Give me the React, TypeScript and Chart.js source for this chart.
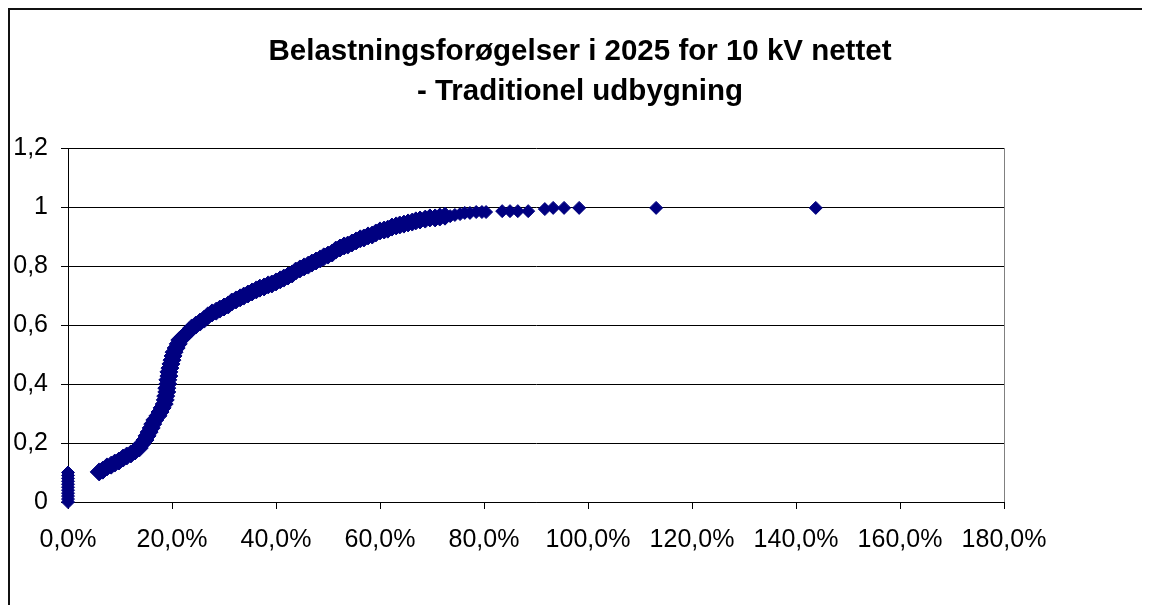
import React, { useEffect, useRef } from "react";
import { Chart, registerables } from "chart.js";

Chart.register(...registerables);

const TITLE_LINES = ["Belastningsforøgelser i 2025 for 10 kV nettet", "- Traditionel udbygning"];

const X_TICKS = [0, 20, 40, 60, 80, 100, 120, 140, 160, 180];
const Y_TICKS = [0, 0.2, 0.4, 0.6, 0.8, 1, 1.2];

// Items with no load increase (0 %)
const zeroX = [0, 0, 0, 0, 0, 0, 0, 0, 0, 0, 0];
const zeroY = [0, 0.01, 0.02, 0.03, 0.04, 0.05, 0.06, 0.07, 0.08, 0.09, 0.1];

// Load increase in percent (sorted) – dense part of the curve
const curveX = [
  6.0, 6.7, 7.5, 8.3, 9.0, 9.8, 10.6, 11.3, 12.1, 12.9,
  13.7, 14.2, 14.8, 15.2, 15.6, 16.0, 16.3, 16.7, 17.3, 17.7,
  18.1, 18.5, 18.7, 18.8, 19.0, 19.0, 19.2, 19.2, 19.4, 19.4,
  19.6, 19.8, 20.0, 20.2, 20.4, 20.8, 21.2, 21.5, 22.1, 22.7,
  23.3, 23.8, 24.6, 25.4, 26.2, 26.9, 27.7, 28.5, 29.2, 30.0,
  30.8, 31.5, 32.3, 33.1, 33.8, 34.6, 35.4, 36.2, 36.9, 37.7,
  38.5, 39.2, 40.0, 40.8, 41.5, 42.3, 43.1, 43.8, 44.6, 45.4,
  46.2, 46.9, 47.7, 48.5, 49.2, 50.0, 50.8, 51.5, 52.3, 53.1,
  53.8, 54.6, 55.4, 56.2, 56.9, 57.7, 58.5, 59.2, 60.0, 60.8,
  61.5, 62.3, 63.1, 63.8, 64.6, 65.4, 66.2, 66.9, 67.7, 68.7,
  69.6, 70.6, 71.5, 72.5,
];

// Cumulative share of items – dense part of the curve
const curveY = [
  0.102, 0.108, 0.119, 0.125, 0.132, 0.139, 0.149, 0.156, 0.163, 0.173,
  0.183, 0.197, 0.21, 0.224, 0.237, 0.251, 0.264, 0.278, 0.292, 0.305,
  0.319, 0.332, 0.346, 0.359, 0.373, 0.386, 0.4, 0.414, 0.427, 0.441,
  0.454, 0.468, 0.481, 0.495, 0.508, 0.522, 0.536, 0.549, 0.559, 0.569,
  0.58, 0.59, 0.6, 0.61, 0.62, 0.631, 0.641, 0.647, 0.654, 0.661,
  0.668, 0.678, 0.685, 0.692, 0.698, 0.705, 0.712, 0.719, 0.725, 0.729,
  0.736, 0.739, 0.746, 0.753, 0.759, 0.766, 0.773, 0.783, 0.79, 0.797,
  0.803, 0.81, 0.817, 0.824, 0.831, 0.837, 0.844, 0.854, 0.861, 0.868,
  0.871, 0.878, 0.885, 0.892, 0.895, 0.902, 0.905, 0.912, 0.919, 0.922,
  0.925, 0.932, 0.936, 0.939, 0.942, 0.946, 0.949, 0.953, 0.956, 0.959,
  0.963, 0.963, 0.966, 0.969,
];

// Tail of the distribution
const tailX = [
  73.5, 74.4, 75.4, 76.3, 77.3, 78.5, 79.6, 80.4, 83.5, 85.0,
  86.5, 88.5, 91.7, 93.3, 95.4, 98.3, 113.1, 143.8,
];
const tailY = [
  0.969, 0.973, 0.976, 0.98, 0.98, 0.983, 0.983, 0.983, 0.986, 0.986,
  0.986, 0.986, 0.993, 0.997, 0.997, 0.997, 0.997, 0.997,
];

const FONT = "'Liberation Sans', Arial, sans-serif";
const NAVY = "#000080";

const plotBorder = {
  id: "plotBorder",
  afterDatasetsDraw(chart: any) {
    const { ctx, chartArea } = chart;
    ctx.save();
    ctx.strokeStyle = "#808080";
    ctx.lineWidth = 1;
    ctx.beginPath();
    const x = Math.round(chartArea.right) + 0.5;
    ctx.moveTo(x, chartArea.top);
    ctx.lineTo(x, chartArea.bottom);
    ctx.stroke();
    ctx.restore();
  },
};

const pts = (xs: number[], ys: number[]) => xs.map((x, i) => ({ x, y: ys[i] }));

export default function App() {
  const ref = useRef<HTMLCanvasElement | null>(null);

  useEffect(() => {
    document.body.style.overflow = "hidden";
    if (!ref.current) return;
    const base = {
      pointStyle: "rectRot",
      pointBorderWidth: 1,
      backgroundColor: NAVY,
      borderColor: NAVY,
      clip: false as any,
    };
    const chart = new Chart(ref.current, {
      type: "scatter",
      data: {
        datasets: [
          { ...base, label: "0 %", data: pts(zeroX, zeroY), pointRadius: 6.5 },
          { ...base, label: "Kurve", data: pts(curveX, curveY), pointRadius: 9 },
          { ...base, label: "Hale", data: pts(tailX, tailY), pointRadius: 6.5 },
        ] as any,
      },
      options: {
        animation: false,
        responsive: false,
        layout: { padding: 0 },
        plugins: {
          legend: { display: false },
          tooltip: { enabled: false },
          title: {
            display: true,
            text: TITLE_LINES,
            color: "#000",
            font: { family: FONT, size: 29.5, weight: "bold", lineHeight: 1.356 },
            padding: { top: 22, bottom: 36 },
          },
        },
        scales: {
          x: {
            type: "linear",
            min: X_TICKS[0],
            max: X_TICKS[X_TICKS.length - 1],
            afterBuildTicks: (s: any) => {
              s.ticks = X_TICKS.map((v) => ({ value: v }));
            },
            afterFit: (s: any) => {
              s.height = 103;
            },
            grid: {
              drawOnChartArea: false,
              drawTicks: true,
              tickLength: 7,
              color: "#000",
            },
            border: { color: "#000", width: 1 },
            ticks: {
              color: "#000",
              font: { family: FONT, size: 25 },
              padding: 16,
              maxRotation: 0,
              autoSkip: false,
              callback: (v: any) => Number(v).toFixed(1).replace(".", ",") + "%",
            },
          },
          y: {
            type: "linear",
            min: Y_TICKS[0],
            max: Y_TICKS[Y_TICKS.length - 1],
            afterBuildTicks: (s: any) => {
              s.ticks = Y_TICKS.map((v) => ({ value: v }));
            },
            afterFit: (s: any) => {
              s.width = 58;
            },
            grid: {
              drawOnChartArea: true,
              drawTicks: true,
              tickLength: 7,
              color: "#000",
            },
            border: { color: "#000", width: 1 },
            ticks: {
              color: "#000",
              font: { family: FONT, size: 25 },
              padding: 13,
              autoSkip: false,
              callback: (v: any) => String(Number(Number(v).toFixed(1))).replace(".", ","),
            },
          },
          yRightSpace: {
            type: "linear",
            position: "right",
            display: true,
            afterFit: (s: any) => {
              s.width = 146;
            },
            grid: { display: false, drawTicks: false },
            border: { display: false },
            ticks: { display: false },
          },
        },
      },
      plugins: [plotBorder],
    });
    return () => chart.destroy();
  }, []);

  return (
    <div
      style={{
        width: 1250,
        height: 700,
        boxSizing: "border-box",
        borderLeft: "2px solid #111",
        borderTop: "2px solid #111",
        background: "#fff",
      }}
    >
      <canvas ref={ref} width={1140} height={595} style={{ display: "block" }} />
    </div>
  );
}
